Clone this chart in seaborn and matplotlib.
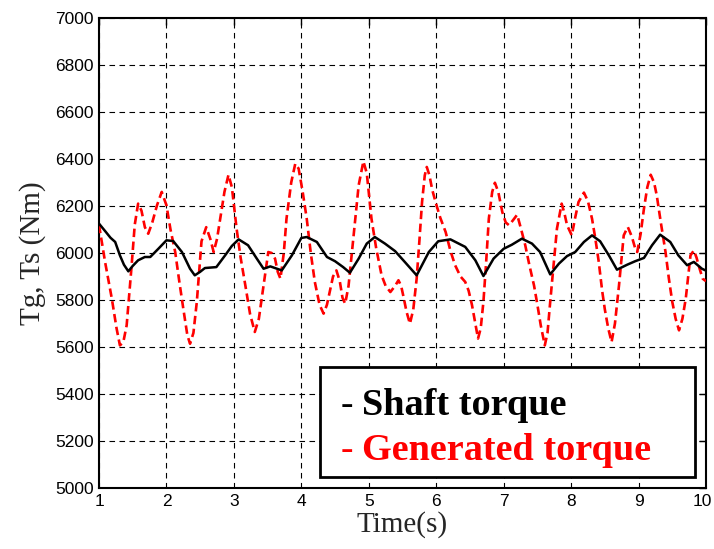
import matplotlib
matplotlib.use("Agg")
import matplotlib.pyplot as plt
import matplotlib.transforms as mtransforms
import seaborn as sns
import pandas as pd
from matplotlib.patches import Rectangle

# ---- data ----
shaft_t = [1.00, 1.10, 1.17, 1.24, 1.31, 1.37, 1.435, 1.50, 1.58, 1.68, 1.76, 1.88, 2.00, 2.10,
           2.23, 2.35, 2.42, 2.50, 2.57, 2.74, 2.87, 2.97, 3.07, 3.21, 3.34, 3.44, 3.54, 3.62,
           3.71, 3.86, 4.00, 4.08, 4.23, 4.38, 4.50, 4.62, 4.72, 4.85, 4.97, 5.09, 5.24, 5.39,
           5.54, 5.71, 5.89, 6.03, 6.21, 6.43, 6.58, 6.70, 6.85, 7.00, 7.12, 7.27, 7.42, 7.54,
           7.69, 7.82, 7.94, 8.06, 8.19, 8.31, 8.43, 8.56, 8.68, 8.83, 8.95, 9.08, 9.20, 9.32,
           9.47, 9.59, 9.72, 9.82, 9.94, 10.0]
shaft_v = [6125, 6090, 6065, 6047, 5990, 5950, 5922, 5945, 5969, 5983, 5983, 6018, 6054, 6051,
           6004, 5933, 5905, 5920, 5936, 5940, 5990, 6030, 6058, 6033, 5976, 5933, 5943, 5935,
           5926, 5990, 6064, 6068, 6047, 5983, 5965, 5940, 5916, 5976, 6040, 6068, 6040, 6008,
           5960, 5905, 6004, 6050, 6058, 6026, 5969, 5902, 5976, 6018, 6035, 6061, 6040, 6004,
           5909, 5955, 5987, 6004, 6047, 6075, 6050, 5990, 5929, 5950, 5965, 5979, 6033, 6078,
           6047, 5990, 5948, 5962, 5933, 5925]

gen_t = [1.00, 1.09, 1.19, 1.26, 1.31, 1.36, 1.41, 1.48, 1.53, 1.58, 1.63, 1.68, 1.73, 1.79,
         1.86, 1.93, 2.00, 2.06, 2.13, 2.19, 2.25, 2.31, 2.35, 2.40, 2.45, 2.52, 2.59, 2.65,
         2.70, 2.75, 2.79, 2.86, 2.92, 2.97, 3.04, 3.10, 3.17, 3.24, 3.31, 3.37, 3.44, 3.51,
         3.56, 3.61, 3.65, 3.69, 3.74, 3.78, 3.85, 3.91, 3.96, 4.02, 4.08, 4.14, 4.20, 4.27,
         4.33, 4.38, 4.42, 4.47, 4.52, 4.57, 4.61, 4.65, 4.70, 4.75, 4.80, 4.85, 4.92, 4.97,
         5.04, 5.11, 5.19, 5.25, 5.32, 5.39, 5.44, 5.48, 5.51, 5.56, 5.61, 5.66, 5.71, 5.75,
         5.79, 5.83, 5.86, 5.90, 5.94, 5.99, 6.06, 6.14, 6.21, 6.28, 6.36, 6.43, 6.48, 6.53,
         6.58, 6.62, 6.66, 6.70, 6.74, 6.78, 6.83, 6.87, 6.92, 6.98, 7.03, 7.08, 7.14, 7.20,
         7.26, 7.32, 7.38, 7.45, 7.50, 7.55, 7.61, 7.65, 7.69, 7.74, 7.79, 7.86, 7.90, 7.94,
         8.01, 8.06, 8.11, 8.19, 8.25, 8.31, 8.36, 8.41, 8.46, 8.50, 8.55, 8.60, 8.65, 8.71,
         8.78, 8.84, 8.90, 8.95, 8.98, 9.03, 9.08, 9.13, 9.18, 9.23, 9.27, 9.33, 9.40, 9.45,
         9.50, 9.55, 9.60, 9.65, 9.70, 9.77, 9.82, 9.86, 9.89, 9.95, 10.0]
gen_v = [6120, 5962, 5806, 5680, 5607, 5620, 5692, 5933, 6120, 6210, 6180, 6110, 6082, 6130,
         6203, 6260, 6203, 6100, 6004, 5880, 5763, 5650, 5614, 5660, 5791, 6050, 6110, 6060,
         6004, 6060, 6132, 6260, 6333, 6280, 6104, 5980, 5862, 5740, 5664, 5720, 5862, 6004,
         6000, 5976, 5920, 5891, 6000, 6146, 6300, 6380, 6359, 6260, 6146, 6000, 5877, 5780,
         5742, 5780, 5834, 5900, 5926, 5880, 5810, 5784, 5860, 6004, 6150, 6288, 6390, 6340,
         6146, 6020, 5905, 5860, 5834, 5860, 5884, 5860, 5820, 5750, 5699, 5760, 5891, 6050,
         6217, 6330, 6366, 6330, 6270, 6217, 6150, 6089, 6010, 5948, 5900, 5877, 5840, 5779,
         5700, 5636, 5680, 5793, 5960, 6146, 6260, 6299, 6260, 6174, 6130, 6118, 6140, 6163,
         6100, 6033, 5950, 5862, 5780, 5692, 5607, 5660, 5792, 5950, 6104, 6210, 6170, 6118,
         6075, 6150, 6217, 6257, 6220, 6146, 6060, 5962, 5840, 5760, 5680, 5621, 5700, 5862,
         6075, 6111, 6070, 6020, 6004, 6080, 6189, 6280, 6333, 6300, 6245, 6130, 6004, 5890,
         5792, 5720, 5671, 5720, 5806, 5990, 6011, 5980, 5948, 5891, 5880]

x_ticks = [1, 2, 3, 4, 5, 6, 7, 8, 9, 10]
y_ticks = [5000, 5200, 5400, 5600, 5800, 6000, 6200, 6400, 6600, 6800, 7000]
legend_labels = ["Shaft torque", "Generated torque"]
legend_colors = ["black", "#ff0000"]

shaft_df = pd.DataFrame({"t": shaft_t, "v": shaft_v})
gen_df = pd.DataFrame({"t": gen_t, "v": gen_v})

sns.set_style("white")
fig = plt.figure(figsize=(7.14, 5.49), dpi=100)
ax = fig.add_axes([99 / 714, 1 - 488 / 549, 607 / 714, 470 / 549])

sns.lineplot(data=gen_df, x="t", y="v", ax=ax, color="#ff0000", linewidth=1.9,
             dashes=False, estimator=None, sort=False, zorder=3)
ax.lines[-1].set_dashes((3.2, 1.7))
sns.lineplot(data=shaft_df, x="t", y="v", ax=ax, color="black", linewidth=1.8,
             estimator=None, sort=False, zorder=4)

ax.set_xlim(1, 10)
ax.set_ylim(5000, 7000)
ax.set_xticks(x_ticks)
ax.set_yticks(y_ticks)
ax.set_xticklabels([str(v) for v in x_ticks], fontfamily="Liberation Sans", fontsize=12.5)
ax.set_yticklabels([str(v) for v in y_ticks], fontfamily="Liberation Sans", fontsize=12.5)
ax.tick_params(direction="in", length=5, width=1, top=True, right=True, colors="black", pad=4)
last = ax.get_xticklabels()[-1]
last.set_transform(last.get_transform() +
                   mtransforms.ScaledTranslation(-0.04, 0, fig.dpi_scale_trans))

ax.grid(True, color="black", linestyle=(0, (5, 4)), linewidth=0.8)
for s in ax.spines.values():
    s.set_color("black")
    s.set_linewidth(1.5)

ax.set_xlabel("Time(s)", fontfamily="Liberation Serif", fontsize=21, labelpad=2)
ax.set_ylabel("Tg, Ts (Nm)", fontfamily="Liberation Serif", fontsize=21, labelpad=6)

# legend-style box (drawn in axes coordinates)
def ax_x(px):
    return (px - 99) / 607

def ax_y(py):
    return (488 - py) / 470

box = Rectangle((ax_x(320), ax_y(477)), ax_x(695) - ax_x(320), ax_y(367) - ax_y(477),
                transform=ax.transAxes, facecolor="white", edgecolor="black",
                linewidth=2, zorder=10)
ax.add_patch(box)
for lbl, col, base in zip(legend_labels, legend_colors, [415, 460]):
    ax.text(ax_x(341), ax_y(base), "- ", transform=ax.transAxes, color=col,
            fontfamily="Liberation Serif", fontsize=27, va="baseline", ha="left", zorder=11)
    ax.text(ax_x(362), ax_y(base), lbl, transform=ax.transAxes, color=col,
            fontfamily="Liberation Serif", fontweight="bold", fontsize=27.5,
            va="baseline", ha="left", zorder=11)

fig.savefig("out.png", dpi=100)
